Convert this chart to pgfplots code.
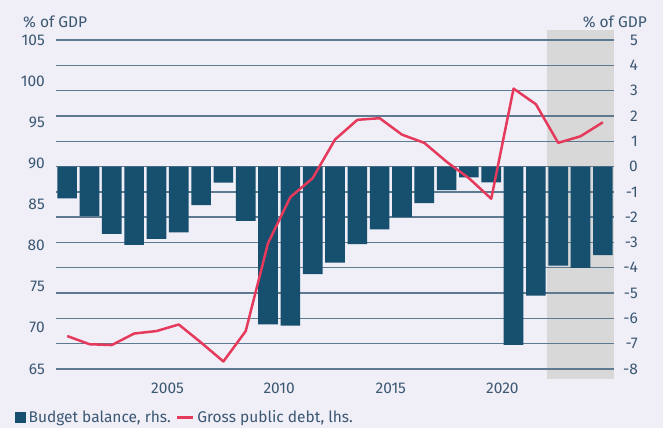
\documentclass[border=0pt]{standalone}
\usepackage{fontspec}
\setmainfont{Fira Sans}
\usepackage{pgfplots}
\pgfplotsset{compat=1.18}
\definecolor{bg}{HTML}{F0EEF7}
\definecolor{barc}{HTML}{174F6E}
\definecolor{debt}{HTML}{E63A5C}
\definecolor{gridc}{HTML}{5E7A91}
\definecolor{fcgray}{HTML}{D8D8D8}
\definecolor{txt}{HTML}{3B5873}
\newcommand\chartfont{\fontsize{15.5}{18}\selectfont}
\begin{document}
\begin{tikzpicture}[font=\chartfont]
\fill[bg] (0,0) rectangle (663pt,428pt);
\path[use as bounding box] (0,0) rectangle (663pt,428pt);
% forecast shading
\begin{axis}[
  at={(56pt,49pt)}, anchor=south west,
  scale only axis, width=558pt, height=349pt,
  xmin=2000, xmax=2025, ymin=-8.4, ymax=5.4,
  hide axis,
]
\fill[fill=fcgray] (axis cs:2022,-8.4) rectangle (axis cs:2025,5.4);
\end{axis}
% budget balance, right axis
\begin{axis}[
  at={(56pt,49pt)}, anchor=south west,
  scale only axis, width=558pt, height=349pt,
  xmin=2000, xmax=2025, ymin=-8.4, ymax=5.4,
  ybar, bar width=0.88,
  axis y line*=right, axis x line*=bottom,
  axis line style={draw=none},
  major tick length=0pt,
  ytick={-8,-7,-6,-5,-4,-3,-2,-1,0,1,2,3,4,5},
  yticklabels={-8,-7,-6,-5,-4,-3,-2,-1,0,1,2,3,4,5},
  xtick={2005,2010,2015,2020},
  xticklabels={2005,2010,2015,2020},
  ymajorgrids, grid style={gridc, line width=1.3pt},
  yticklabel style={anchor=east, inner sep=0pt, xshift=24pt, text=txt},
  xticklabel style={anchor=north, inner sep=0pt, yshift=-4pt, text=txt},
]
\addplot[fill=barc, draw=none] coordinates {
(2000.5,-1.26) (2001.5,-1.95) (2002.5,-2.66) (2003.5,-3.10) (2004.5,-2.86)
(2005.5,-2.60) (2006.5,-1.52) (2007.5,-0.64) (2008.5,-2.15) (2009.5,-6.24)
(2010.5,-6.29) (2011.5,-4.25) (2012.5,-3.80) (2013.5,-3.07) (2014.5,-2.48)
(2015.5,-2.00) (2016.5,-1.45) (2017.5,-0.93) (2018.5,-0.43) (2019.5,-0.63)
(2020.5,-7.05) (2021.5,-5.10) (2022.5,-3.92) (2023.5,-4.01) (2024.5,-3.50)
};
\end{axis}
% debt, left axis
\begin{axis}[
  at={(56pt,49pt)}, anchor=south west,
  scale only axis, width=558pt, height=349pt,
  xmin=2000, xmax=2025, ymin=63.769, ymax=106.231,
  axis y line*=left, axis x line=none,
  axis line style={draw=none},
  major tick length=0pt,
  ytick={65,70,75,80,85,90,95,100,105},
  yticklabels={65,70,75,80,85,90,95,100,105},
  yticklabel style={anchor=east, inner sep=0pt, xshift=-11pt, text=txt},
  legend columns=2,
  legend style={draw=none, fill=none, at={(axis description cs:-0.0735,-0.1103)}, anchor=west,
    inner sep=0pt, nodes={inner sep=0pt, text=txt},
    /tikz/every odd column/.append style={column sep=3pt},
    /tikz/every even column/.append style={column sep=5pt}},
]
\addlegendimage{legend image code/.code={\fill[barc] (0pt,-5pt) rectangle (10pt,5pt);}}
\addlegendentry{Budget balance, rhs.}
\addplot[debt, line width=2.5pt, line join=round,
  legend image code/.code={\draw[debt, line width=2.5pt] (0pt,0pt) -- (16pt,0pt);}] coordinates {
(2000.5,69.0) (2001.5,68.0) (2002.5,67.9) (2003.5,69.3) (2004.5,69.6)
(2005.5,70.4) (2006.5,68.2) (2007.5,65.9) (2008.5,69.6) (2009.5,80.3)
(2010.5,85.9) (2011.5,88.2) (2012.5,92.9) (2013.5,95.3) (2014.5,95.5)
(2015.5,93.5) (2016.5,92.5) (2017.5,90.2) (2018.5,88.2) (2019.5,85.7)
(2020.5,99.1) (2021.5,97.2) (2022.5,92.5) (2023.5,93.3) (2024.5,95.0)
};
\addlegendentry{Gross public debt, lhs.}
\end{axis}
\node[anchor=base west, inner sep=0pt, text=txt] at (23pt,400.5pt) {\% of GDP};
\node[anchor=base east, inner sep=0pt, text=txt] at (647pt,400.5pt) {\% of GDP};
\end{tikzpicture}
\end{document}
